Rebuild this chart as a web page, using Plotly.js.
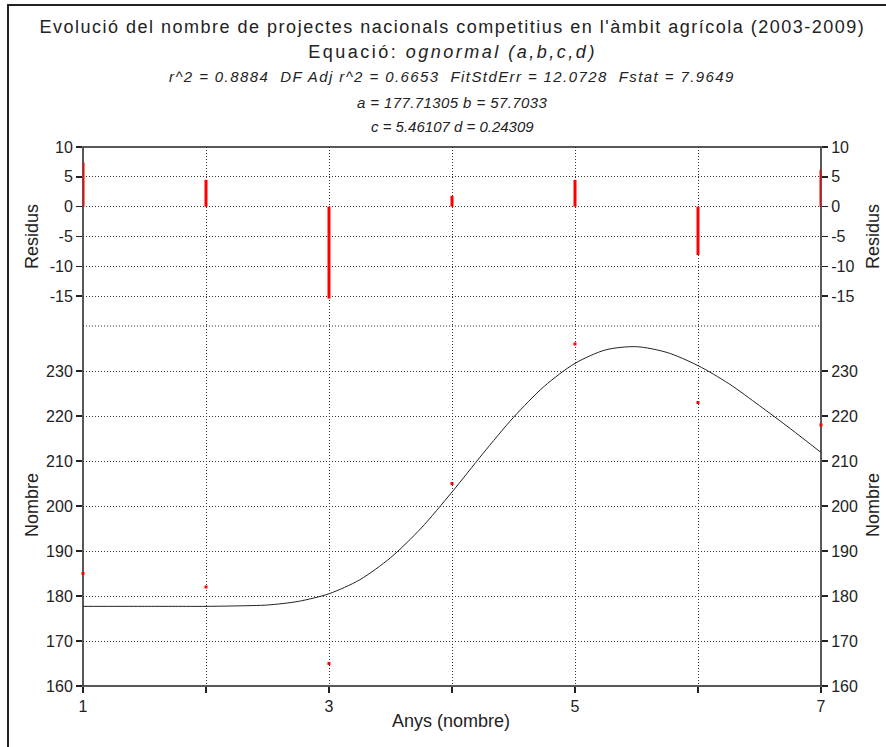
<!DOCTYPE html>
<html>
<head>
<meta charset="utf-8">
<script src="https://cdn.plot.ly/plotly-3.0.1.min.js"></script>
<style>
  html, body { margin: 0; padding: 0; background: #fff; }
  #wrap { position: relative; width: 886px; height: 747px; }
  #chart { position: absolute; left: 0; top: 0; width: 886px; height: 747px; }
  #frame { position: absolute; left: 7px; top: 4px; width: 900px; height: 800px;
           border-left: 2px solid #222; border-top: 2px solid #222; pointer-events: none; }
  g.annotation[data-index="0"] text { letter-spacing: 1.5px; }
  g.annotation[data-index="1"] text { letter-spacing: 2.5px; }
  g.annotation[data-index="2"] text { letter-spacing: 1.4px; }
  g.annotation[data-index="3"] text { letter-spacing: 0.4px; }
</style>
</head>
<body>
<div id="wrap"><div id="chart"></div><div id="frame"></div></div>
<script>
// ---- data ----
const years = [1, 2, 3, 4, 5, 6, 7];
const observed = [185, 182, 165, 205, 236, 223, 218];
const residuals = [7.4, 4.5, -15.4, 1.8, 4.5, -8.1, 6.2];
const curveX = [1, 1.25, 1.5, 1.75, 2, 2.25, 2.5, 2.75, 3, 3.25, 3.5, 3.75, 4, 4.25,
                4.5, 4.75, 5, 5.25, 5.5, 5.75, 6, 6.25, 6.5, 6.75, 7];
const curveY = [177.7, 177.7, 177.7, 177.7, 177.7, 177.8, 178.0, 178.8, 180.5, 183.6,
                188.5, 195.1, 203.1, 211.6, 219.7, 226.6, 231.7, 234.7, 235.4, 234.1,
                231.2, 227.2, 222.3, 217.2, 211.9];
const xTickVals = [1, 2, 3, 4, 5, 6, 7];
const xTickText = ['1', '', '3', '', '5', '', '7'];
const mainTickVals = [160, 170, 180, 190, 200, 210, 220, 230];
const mainTickText = ['160', '170', '180', '190', '200', '210', '220', '230'];
const resTickVals = [-15, -10, -5, 0, 5, 10];
const resTickText = ['-15', '-10', '-5', '0', '5', '10'];
const titleLines = [
  "Evolució del nombre de projectes nacionals competitius en l'àmbit agrícola (2003-2009)",
  "Equació: <i>ognormal (a,b,c,d)</i>",
  "<i>r^2 = 0.8884 &nbsp;DF Adj r^2 = 0.6653 &nbsp;FitStdErr = 12.0728 &nbsp;Fstat = 7.9649</i>",
  "<i>a = 177.71305 b = 57.7033</i>",
  "<i>c = 5.46107 d = 0.24309</i>"
];

const FONT = 'Liberation Sans, Arial, sans-serif';
const INK = '#222';
const DOT = '1px,2px';
const RED = '#ff0000';

// residual stems: drawn as error bars from each residual back to zero (not clipped at the edges)
const stemUp = residuals.map(function (r) { return r < 0 ? -r : 0; });
const stemDown = residuals.map(function (r) { return r > 0 ? r : 0; });

const traces = [
  { type: 'scatter', mode: 'markers', x: years, y: residuals, xaxis: 'x2', yaxis: 'y2',
    marker: { opacity: 0, size: 1 }, cliponaxis: false, hoverinfo: 'skip',
    error_y: { type: 'data', symmetric: false, array: stemUp, arrayminus: stemDown,
               color: RED, thickness: 3, width: 0 } },
  { type: 'scatter', mode: 'lines', x: curveX, y: curveY, xaxis: 'x', yaxis: 'y',
    line: { color: INK, width: 1, shape: 'spline', smoothing: 0.8 }, hoverinfo: 'skip' },
  { type: 'scatter', mode: 'markers', x: years, y: observed, xaxis: 'x', yaxis: 'y',
    marker: { color: RED, size: 3, symbol: 'square', line: { width: 0 } },
    cliponaxis: false, hoverinfo: 'skip' },
  // invisible companions so the right-hand mirror axes are drawn
  { type: 'scatter', mode: 'markers', x: years, y: observed, xaxis: 'x', yaxis: 'y3',
    marker: { opacity: 0 }, hoverinfo: 'skip' },
  { type: 'scatter', mode: 'markers', x: years, y: residuals, xaxis: 'x2', yaxis: 'y4',
    marker: { opacity: 0 }, hoverinfo: 'skip' }
];

const split = 360 / 539;
const gridCommon = { showgrid: true, gridcolor: '#333', griddash: DOT, gridwidth: 1,
                     zeroline: false, showline: false };
const tickCommon = { ticks: 'outside', ticklen: 6, tickwidth: 1.5, tickcolor: INK,
                     tickfont: { family: FONT, size: 16, color: INK } };

const layout = {
  width: 886, height: 747,
  margin: { l: 83, r: 65, t: 147, b: 61, pad: 0 },
  paper_bgcolor: '#fff', plot_bgcolor: '#fff',
  showlegend: false,
  font: { family: FONT, size: 16, color: INK },
  xaxis: Object.assign({}, gridCommon, tickCommon, {
    domain: [0, 1], anchor: 'y', range: [1, 7], tickvals: xTickVals, ticktext: xTickText
  }),
  xaxis2: Object.assign({}, gridCommon, {
    domain: [0, 1], anchor: 'y2', range: [1, 7], matches: 'x', tickvals: xTickVals,
    showticklabels: false, ticks: ''
  }),
  yaxis: Object.assign({}, gridCommon, tickCommon, {
    domain: [0, split], anchor: 'x', range: [160, 240], tickvals: mainTickVals, ticktext: mainTickText
  }),
  yaxis2: Object.assign({}, gridCommon, tickCommon, {
    domain: [split, 1], anchor: 'x2', range: [-20, 10], tickvals: resTickVals, ticktext: resTickText
  }),
  yaxis3: Object.assign({}, tickCommon, {
    overlaying: 'y', side: 'right', anchor: 'x', range: [160, 240],
    tickvals: mainTickVals, ticktext: mainTickText, showgrid: false, zeroline: false, showline: false
  }),
  yaxis4: Object.assign({}, tickCommon, {
    overlaying: 'y2', side: 'right', anchor: 'x2', range: [-20, 10],
    tickvals: resTickVals, ticktext: resTickText, showgrid: false, zeroline: false, showline: false
  }),
  shapes: [
    { type: 'line', xref: 'paper', yref: 'paper', x0: 0, x1: 1, y0: split, y1: split,
      line: { color: '#333', width: 1, dash: DOT }, layer: 'between' },
    { type: 'rect', xref: 'paper', yref: 'paper', x0: 0, x1: 1, y0: 0, y1: 1,
      line: { color: INK, width: 1.5 }, fillcolor: 'rgba(0,0,0,0)', layer: 'between' }
  ],
  annotations: []
};

const titleY = [27, 52, 77, 102, 126];
const titleSize = [18, 18, 15, 15, 15];
titleLines.forEach(function (t, i) {
  layout.annotations.push({
    text: t, xref: 'paper', yref: 'paper', x: 0.5, y: (686 - titleY[i]) / 539,
    xanchor: 'center', yanchor: 'middle', showarrow: false,
    font: { family: FONT, size: titleSize[i], color: INK }
  });
});
const axTitles = [
  { text: 'Residus', px: 32, py: 237 },
  { text: 'Nombre', px: 32, py: 505 },
  { text: 'Residus', px: 873, py: 237 },
  { text: 'Nombre', px: 873, py: 505 }
];
axTitles.forEach(function (a) {
  layout.annotations.push({
    text: a.text, xref: 'paper', yref: 'paper', x: (a.px - 83) / 738, y: (686 - a.py) / 539,
    xanchor: 'center', yanchor: 'middle', textangle: -90, showarrow: false,
    font: { family: FONT, size: 18, color: INK }
  });
});
layout.annotations.push({
  text: 'Anys (nombre)', xref: 'paper', yref: 'paper', x: (451 - 83) / 738, y: (686 - 721) / 539,
  xanchor: 'center', yanchor: 'middle', showarrow: false,
  font: { family: FONT, size: 18, color: INK }
});

Plotly.newPlot('chart', traces, layout, { staticPlot: true, displayModeBar: false });
</script>
</body>
</html>
